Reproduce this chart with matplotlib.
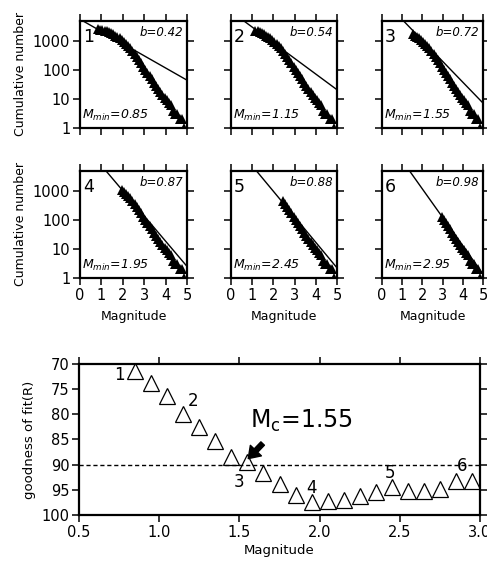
import numpy as np
import matplotlib
matplotlib.use('Agg')
import matplotlib.pyplot as plt

plt.rcParams['font.family'] = ['DejaVu Sans']
plt.rcParams['mathtext.fontset'] = 'dejavusans'

# Cumulative frequency-magnitude data
mag = [0.85, 0.95, 1.05, 1.15, 1.25, 1.35, 1.45, 1.55, 1.65, 1.75,
       1.85, 1.95, 2.05, 2.15, 2.25, 2.35, 2.45, 2.55, 2.65, 2.75,
       2.85, 2.95, 3.05, 3.15, 3.25, 3.35, 3.45, 3.55, 3.65, 3.75,
       3.85, 3.95, 4.05, 4.15, 4.25, 4.35, 4.45, 4.55, 4.65, 4.75, 4.85]
cum_n = [2500, 2450, 2380, 2280, 2150, 2000, 1850, 1690, 1530, 1380,
         1240, 1100, 950, 810, 680, 560, 450, 360, 285, 222,
         172, 132, 101, 79, 62, 48, 37, 29, 23, 18,
         14, 11, 9, 7, 6, 4, 3, 3, 2, 2, 1]

panel_ids = ['1', '2', '3', '4', '5', '6']
m_min = [0.85, 1.15, 1.55, 1.95, 2.45, 2.95]
b_values = [0.42, 0.54, 0.72, 0.87, 0.88, 0.98]
a_values = [3.75, 4.02, 4.46, 4.75, 4.75, 5.03]

# Goodness of fit vs minimum magnitude
gof_mag = [0.85, 0.95, 1.05, 1.15, 1.25, 1.35, 1.45, 1.55, 1.65, 1.75, 1.85,
           1.95, 2.05, 2.15, 2.25, 2.35, 2.45, 2.55, 2.65, 2.75, 2.85, 2.95]
gof_r = [71.3, 73.7, 76.4, 79.9, 82.5, 85.2, 88.5, 89.5, 91.7, 93.9, 96.1,
         97.5, 97.2, 97.0, 96.3, 95.5, 94.5, 95.2, 95.2, 94.8, 93.2, 93.2]
gof_labels = ['1', '2', '3', '4', '5', '6']
gof_label_xy = [(0.75, 72.1), (1.21, 77.3), (1.50, 93.5), (1.95, 94.7), (2.44, 91.6), (2.89, 90.2)]
mc_value = 1.55

W, H = 487, 570
fig = plt.figure(figsize=(W / 100, H / 100), dpi=100)

col_left = [80, 231, 382]
col_width = [107, 106, 101]
row_top = [21, 171]
ph = 107

mag_arr = np.array(mag)
n_arr = np.array(cum_n)

for i in range(6):
    r, c = divmod(i, 3)
    left = col_left[c] / W
    bottom = 1 - (row_top[r] + ph) / H
    ax = fig.add_axes([left, bottom, col_width[c] / W, ph / H])
    sel = mag_arr >= m_min[i] - 1e-9
    ax.semilogy(mag_arr[sel], n_arr[sel], '^', color='black', ms=7, mew=0)
    xl = np.array([0.0, 5.0])
    ax.plot(xl, 10 ** (a_values[i] - b_values[i] * xl), color='black', lw=1.0)
    ax.set_xlim(0, 5)
    ax.set_ylim(1, 4900)
    ax.set_xticks([0, 1, 2, 3, 4, 5])
    ax.set_yticks([1, 10, 100, 1000])
    ax.minorticks_off()
    ax.set_yticklabels(['1', '10', '100', '1000'])
    ax.tick_params(which='both', direction='out', length=5, width=1.1,
                   top=True, right=True, labelsize=10.5, pad=2)
    if c != 0:
        ax.tick_params(labelleft=False)
    if r == 0:
        ax.tick_params(labelbottom=False)
    else:
        ax.set_xlabel('Magnitude', fontsize=9, labelpad=5)
    if c == 0:
        ax.set_ylabel('Cumulative number', fontsize=9)
    for s in ax.spines.values():
        s.set_linewidth(1.6)
    ax.text(0.03, 0.85, panel_ids[i], transform=ax.transAxes, fontsize=12.5,
            ha='left', va='center')
    ax.text(0.96, 0.89, 'b=%.2f' % b_values[i], transform=ax.transAxes,
            fontsize=8.5, style='italic', ha='right', va='center')
    ax.text(0.02, 0.12, r'$M_{min}$=%.2f' % m_min[i], transform=ax.transAxes,
            fontsize=9, style='italic', ha='left', va='center')

# Bottom panel
axb = fig.add_axes([79 / W, 1 - 515 / H, 401 / W, 151 / H])
axb.plot(gof_mag, gof_r, '^', ms=12, mfc='white', mec='black', mew=0.9,
         color='black', clip_on=False)
axb.axhline(90, color='black', lw=1, ls=(0, (3, 2)))
axb.set_xlim(0.5, 3.0)
axb.set_ylim(100, 70)
axb.set_xticks([0.5, 1.0, 1.5, 2.0, 2.5, 3.0])
axb.set_yticks([70, 75, 80, 85, 90, 95, 100])
axb.tick_params(direction='out', length=5, width=1.1, top=True, right=True,
                labelsize=10.5, pad=2)
axb.set_xlabel('Magnitude', fontsize=9.5, labelpad=3)
axb.set_ylabel('goodness of fit(R)', fontsize=9.5, labelpad=4)
for s in axb.spines.values():
    s.set_linewidth(1.6)
for lab, (x, y) in zip(gof_labels, gof_label_xy):
    axb.text(x, y, lab, fontsize=12, ha='center', va='center')
axb.text(1.565, 81.4, r'M$_\mathrm{c}$=%.2f' % mc_value, fontsize=17,
         ha='left', va='center')
axb.annotate('', xy=(1.555, 88.8), xytext=(1.645, 85.8),
             arrowprops=dict(facecolor='black', edgecolor='black', width=3.5,
                             headwidth=11, headlength=8, shrink=0))

fig.savefig('out.png', dpi=100)
